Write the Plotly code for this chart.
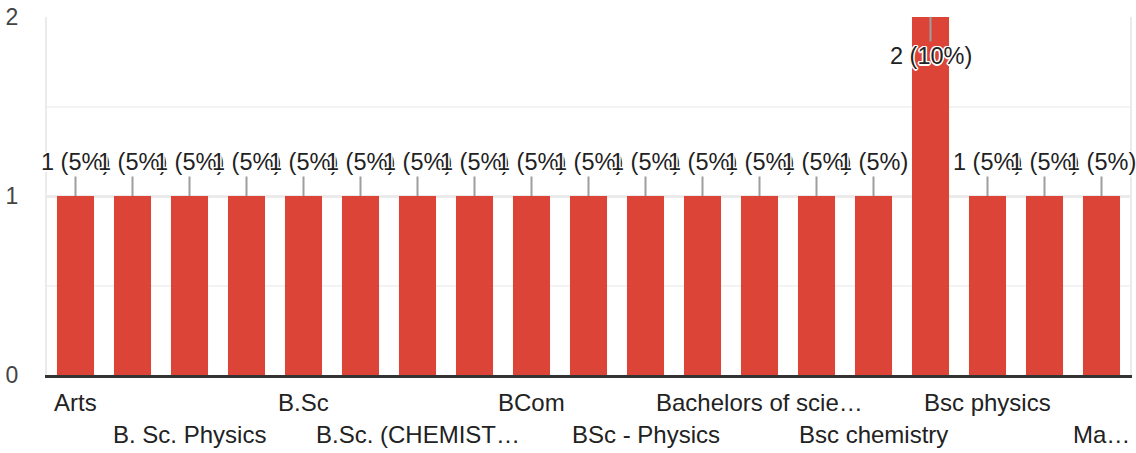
import plotly.graph_objects as go

# ---- data ----
categories = [
    "Arts", "B. Sc. Chemistry", "B. Sc. Physics", "B.A", "B.Sc",
    "B.Sc Physics", "B.Sc. (CHEMISTRY)", "B.Sc. Physics", "BCom", "BSc",
    "BSc - Physics", "BSc Physics", "Bachelors of science", "Bsc",
    "Bsc chemistry", "Bsc maths", "Bsc physics", "Chemistry", "Mathematics",
]
counts = [1, 1, 1, 1, 1, 1, 1, 1, 1, 1, 1, 1, 1, 1, 1, 2, 1, 1, 1]
# axis labels as displayed (every other category, truncated like the original)
shown_idx = [0, 2, 4, 6, 8, 10, 12, 14, 16, 18]
shown_labels = [
    "Arts", "B. Sc. Physics", "B.Sc", "B.Sc. (CHEMIST…", "BCom",
    "BSc - Physics", "Bachelors of scie…", "Bsc chemistry", "Bsc physics", "Ma…",
]
y_ticks = [0, 1, 2]

FONT = "Liberation Sans, Arial, sans-serif"
RED = "#db4437"
total = sum(counts)
halo = ("1.5px 0 0 #fff, -1.5px 0 0 #fff, 0 1.5px 0 #fff, 0 -1.5px 0 #fff, "
        "1px 1px 0 #fff, -1px -1px 0 #fff, 1px -1px 0 #fff, -1px 1px 0 #fff")

fig = go.Figure()
fig.add_trace(go.Bar(
    x=categories, y=counts, marker=dict(color=RED, line=dict(width=0)),
    hoverinfo="skip",
))

ymax = 2
annotations = []
for i, (c, v) in enumerate(zip(categories, counts)):
    pct = round(100 * v / total)
    txt = f"{v} ({pct}%)"
    inside = v >= ymax
    annotations.append(dict(
        x=c, y=v, xref="x", yref="y", text=txt,
        showarrow=True, arrowhead=0, arrowwidth=2, arrowcolor="#9e9e9e",
        ax=0, ay=39 if inside else -34, standoff=0,
        font=dict(family=FONT, size=23.5, color="#222222", shadow=halo),
    ))

top_px, bot_px = 17.0, 375.5
plot_h = bot_px - top_px
for k, (i, lab) in enumerate(zip(shown_idx, shown_labels)):
    row_px = 403 if k % 2 == 0 else 435
    annotations.append(dict(
        x=categories[i], y=(bot_px - row_px) / plot_h, xref="x", yref="paper",
        text=lab, showarrow=False, xanchor="center", yanchor="middle",
        font=dict(family=FONT, size=24, color="#222222"),
    ))

fig.update_layout(
    width=1136, height=453,
    margin=dict(l=47, r=6, t=17, b=77.5, pad=0, autoexpand=False),
    paper_bgcolor="white", plot_bgcolor="white",
    showlegend=False, bargap=0.35,
    annotations=annotations,
    font=dict(family=FONT, size=23, color="#444444"),
)
fig.update_xaxes(
    range=[-0.5, len(categories) - 0.5], showticklabels=False,
    showgrid=False, zeroline=False,
    showline=True, linecolor="#333333", linewidth=3, ticks="",
)
fig.update_yaxes(
    range=[0, ymax], tickvals=y_ticks, ticktext=[str(t) for t in y_ticks],
    showgrid=True, gridcolor="#ebebeb", gridwidth=3, zeroline=False,
    minor=dict(dtick=0.5, tick0=0, showgrid=True, gridcolor="#f3f3f3", gridwidth=2),
    showline=True, mirror=True, linecolor="#ebebeb", linewidth=2,
    ticks="", ticklabelstandoff=22,
    tickfont=dict(family=FONT, size=23, color="#444444"),
)

fig.write_html(
    "out.html",
    config={"displayModeBar": False},
    post_script="document.body.style.margin='0';document.body.style.overflow='hidden';",
)
